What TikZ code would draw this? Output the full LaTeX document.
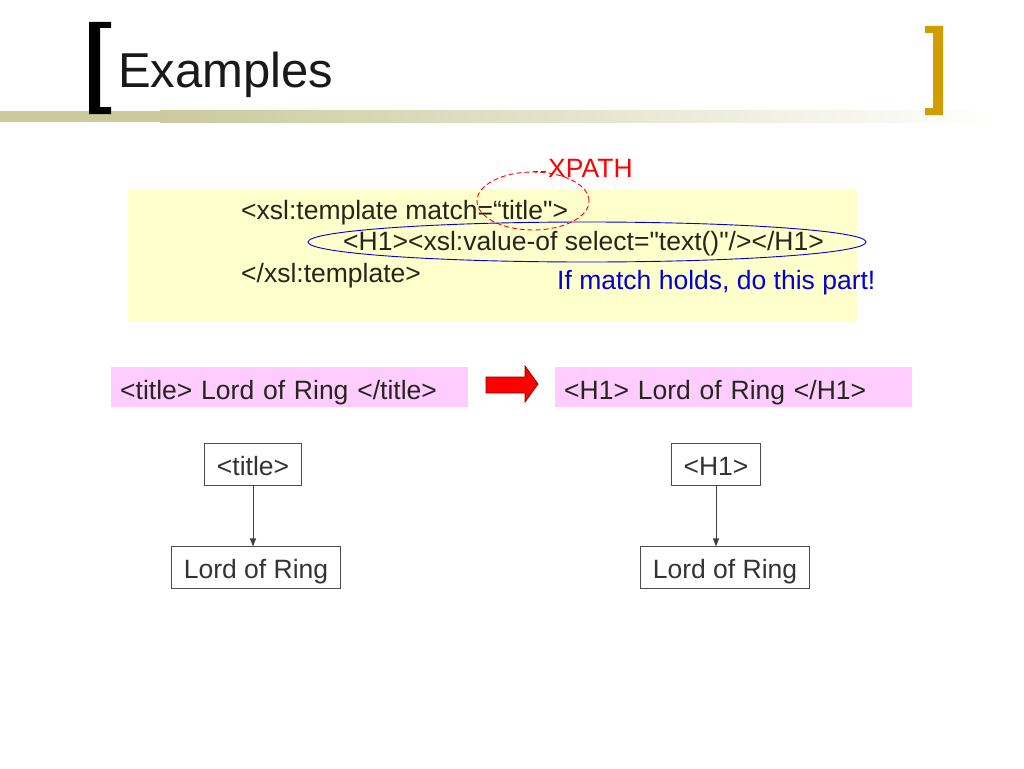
\documentclass[tikz,border=0pt]{standalone}
\usepackage{fontspec}
\setmainfont{Liberation Sans}[Ligatures=TeXOff]
\usetikzlibrary{arrows.meta,positioning,shapes.geometric}
\definecolor{barolive}{RGB}{202,202,156}
\definecolor{bracketgold}{RGB}{208,158,0}
\definecolor{codebg}{RGB}{255,255,204}
\definecolor{tagbg}{RGB}{255,204,255}
\definecolor{codeink}{RGB}{38,38,28}
\definecolor{noteblue}{RGB}{0,0,215}
\begin{document}
\begin{tikzpicture}[x=1pt,y=-1pt,
	txt/.style={font=\fontsize{26.5}{32}\selectfont, inner sep=0pt, anchor=base west},
	strip/.style={txt, fill=tagbg, text=codeink, inner xsep=9pt, text width=339pt, align=left, text height=32pt, text depth=8pt},
	tree/.style={draw=black!70, line width=0.9pt, text=black!80, font=\fontsize{26.5}{32}\selectfont, inner xsep=12pt, inner ysep=0pt, text height=32pt, text depth=10pt},
	ring/.style={ellipse, inner sep=0pt, line width=0.9pt},
	link/.style={every edge/.append style={draw=black!75, line width=1pt}},
	>={Triangle[length=8pt,width=6pt]}]
	\useasboundingbox (0,0) rectangle (1024,768);
	\fill[white] (0,0) rectangle (1024,768);

	\fill[barolive] (0,111) rectangle (160,122);
	\shade[left color=barolive, right color=white] (160,110) rectangle (1000,122);
	\fill[black] (111,22) -- (89,22) -- (89,114) -- (111,114) -- (111,107) -- (100,107) -- (100,28) -- (111,28) -- cycle;
	\fill[bracketgold] (925,26) -- (943,26) -- (943,115) -- (925,115) -- (925,108) -- (933,108) -- (933,33) -- (925,33) -- cycle;
	\node[txt, font=\fontsize{49}{58}\selectfont, text=black!90] (title) at (118,87) {Examples};

	\fill[codebg] (128,189) rectangle (857,322);
	\node[txt, text=codeink] (open) at (241,219) {<xsl:template match=“title">};
	\node[txt, text=codeink] (body) at (343,250) {<H1><xsl:value-of select="text()"/></H1>};
	\node[txt, text=codeink] (close) at (241,282) {</xsl:template>};
	\node[txt, text=noteblue] (note) at (557,289) {If match holds, do this part!};
	\node[txt, text=red] (xpath) at (548,177) {XPATH};

	\node[ring, draw=red, dash pattern=on 5pt off 3pt, minimum width=112pt, minimum height=58pt] (match) at (533,201) {};
	\node[ring, draw=noteblue, minimum width=558pt, minimum height=40pt] (part) at (587,242) {};
	\draw[red, line width=0.9pt, dash pattern=on 5pt off 3pt] (match.north) -- (match.north -| xpath.west);

	\node[strip] (src) at (111,399) {<title> Lord of Ring </title>};
	\node[strip] (dst) at (555,399) {<H1> Lord of Ring </H1>};
	\filldraw[fill=red, draw=red!55!black, line width=0.8pt] (486,377) -- (525,377) -- (525,366) -- (538,384) -- (525,402) -- (525,393) -- (486,393) -- cycle;

	\node[tree, anchor=base] (srcroot) at (253,475) {<title>};
	\node[tree, below=61pt of srcroot, xshift=3pt] (srcleaf) {Lord of Ring};
	\node[tree, anchor=base] (dstroot) at (716,475) {<H1>};
	\node[tree, below=61pt of dstroot, xshift=9pt] (dstleaf) {Lord of Ring};

	\path[->, link]
	  (srcroot.south) edge (srcroot.south |- srcleaf.north)
	  (dstroot.south) edge (dstroot.south |- dstleaf.north);
\end{tikzpicture}
\end{document}
